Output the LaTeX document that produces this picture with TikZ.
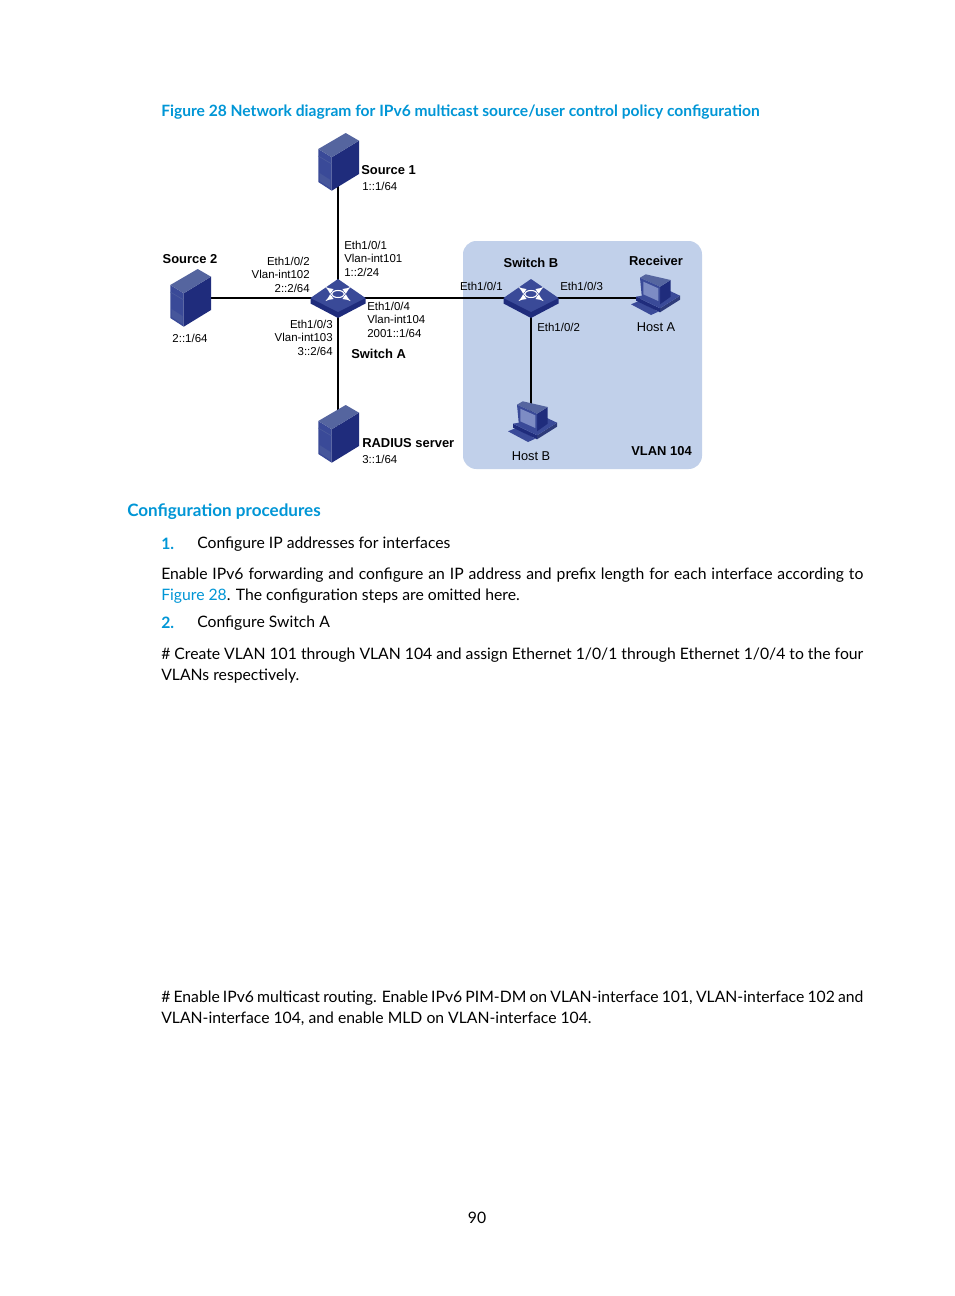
\documentclass[tikz,border=0pt]{standalone}
\usepackage{fontspec}
\setmainfont{Lato}
\setsansfont{Liberation Sans}
\definecolor{hpblue}{HTML}{0096D6}
\definecolor{vlanfill}{HTML}{C1D0EA}
\definecolor{iconfront}{HTML}{1F2C7C}
\definecolor{iconside}{HTML}{3A4A98}
\definecolor{icontop}{HTML}{55659F}
\definecolor{iconscreen}{HTML}{7D8CC4}
\tikzset{
  link/.style={line width=1.3pt, black},
  lab/.style={font=\sffamily\fontsize{8.6}{10.1}\selectfont, inner sep=0pt, align=left},
  hlab/.style={font=\sffamily\fontsize{9.6}{11}\selectfont, inner sep=0pt},
  blab/.style={font=\sffamily\bfseries\fontsize{9.7}{11}\selectfont, inner sep=0pt},
  para/.style={font=\fontsize{11.8}{15.8}\selectfont, inner sep=0pt, anchor=north west, text width=526.5pt, align=justify, text=black},
  servericon/.pic={
    \fill[iconside] (-19.7,-13) -- (-6.3,-4.7) -- (-6.3,28.7) -- (-19.7,20) -- cycle;
    \fill[iconfront] (-6.3,-4.7) -- (21,-21.3) -- (21,12) -- (-6.3,28.7) -- cycle;
    \fill[icontop] (-19.7,-13) -- (7.7,-29) -- (21,-21.3) -- (-6.3,-4.7) -- cycle;
    \draw[icontop!70!iconside, line width=0.4pt] (-19.7,-6) -- (-6.3,2);
    \fill[icontop!45!iconside] (-18.5,11) -- (-7.5,18) -- (-7.5,26) -- (-18.5,19) -- cycle;
  },
  hosticon/.pic={
    % keyboard
    \fill[iconside] (-26,6.3) -- (-18,3) -- (1.3,13.7) -- (-6,17) -- cycle;
    % base
    \fill[iconfront] (-21,-1.3) -- (3,10.3) -- (3,14.3) -- (-21,2.7) -- cycle;
    \fill[iconside!80!black] (3,10.3) -- (23,-2.3) -- (23,1.7) -- (3,14.3) -- cycle;
    \fill[iconside] (-21,-1.3) -- (3,10.3) -- (23,-2.3) -- (13,-7) -- cycle;
    % monitor
    \fill[iconfront] (3,-11.3) -- (13.7,-18) -- (13.7,-1.3) -- (3,6.3) -- cycle;
    \fill[icontop] (-17,-20.3) -- (-11.3,-23.7) -- (13.7,-18) -- (3,-11.3) -- cycle;
    \fill[iconside] (-17,-20.3) -- (3,-11.3) -- (3,6.3) -- (-15.3,-2.3) -- cycle;
    \fill[iconscreen] (-13.7,-16.3) -- (1.3,-9.7) -- (1.3,3) -- (-13.7,-3.7) -- cycle;
  },
  switchicon/.pic={
    \fill[iconfront] (-27.5,0) -- (-27.5,5.5) -- (0,20) -- (27.5,5.5) -- (27.5,0) -- cycle;
    \fill[iconside] (-27.5,0) -- (0,-19) -- (27.5,0) -- (0,14) -- cycle;
    \draw[white, line width=0.8pt] (0,-4) ellipse (6.5 and 3.5);
    \foreach \dx/\dy in {-1/-1, 1/-1, -1/1, 1/1}
      \draw[white, line width=1pt, -latex] (6*\dx,-4+2.5*\dy) -- (12.5*\dx,-4+7*\dy);
  },
}
\begin{document}
\begin{tikzpicture}[x=0.75pt, y=-0.75pt]
  \useasboundingbox (0,0) rectangle (954,1296);
  \fill[white] (0,0) rectangle (954,1296);
  \node[anchor=west, inner sep=0pt, text=hpblue, font=\bfseries\fontsize{11.7}{15}\selectfont] (figcap) at (161,112) {Figure 28 Network diagram for IPv6 multicast source/user control policy configuration};
  \fill[vlanfill, rounded corners=10pt] (463,241) rectangle (702,469);

  % devices
  \coordinate (swa) at (338,298);
  \coordinate (swb) at (531,298);
  \coordinate (srca) at (338,162);
  \coordinate (srcb) at (190,298);
  \coordinate (radius) at (338,434);
  \coordinate (hosta) at (657,298);
  \coordinate (hostb) at (534,425);
  \draw[link] (swa) -- (srca);
  \draw[link] (swa) -- (srcb);
  \draw[link] (swa) -- (radius);
  \draw[link] (swa) -- (swb);
  \draw[link] (swb) -- (hosta);
  \draw[link] (swb) -- (swb |- hostb);
  \pic at (srca) {servericon};
  \pic at (srcb) {servericon};
  \pic at (radius) {servericon};
  \pic at (swa) {switchicon};
  \pic at (swb) {switchicon};
  \pic at (hosta) {hosticon};
  \pic at (hostb) {hosticon};

  \node[blab, anchor=west] (srcaname) at (361,170) {Source 1};
  \node[lab, anchor=west] (srcaip) at (362,186) {1::1/64};
  \node[blab] (srcbname) at (190,259) {Source 2};
  \node[lab] (srcbip) at (190,338) {2::1/64};
  \node[blab, anchor=west] (radname) at (362,443) {RADIUS server};
  \node[lab, anchor=west] (radip) at (362,459) {3::1/64};
  \node[blab, anchor=west] (swaname) at (351,354) {Switch A};
  \node[blab] (swbname) at (531,263) {Switch B};
  \node[blab] (recv) at (656,261) {Receiver};
  \node[hlab] (haname) at (656,327) {Host A};
  \node[hlab] (hbname) at (531,456) {Host B};
  \node[blab, anchor=east] (vlanname) at (692,451) {VLAN 104};

  \node[lab, anchor=north west] (portone) at (344,240.5) {Eth1/0/1\\Vlan-int101\\1::2/24};
  \node[lab, anchor=north east, align=right] (porttwo) at (310,256.5) {Eth1/0/2\\Vlan-int102\\2::2/64};
  \node[lab, anchor=north east, align=right] (portthree) at (333,319.5) {Eth1/0/3\\Vlan-int103\\3::2/64};
  \node[lab, anchor=north west] (portfour) at (367,301.5) {Eth1/0/4\\Vlan-int104\\2001::1/64};
  \node[lab, anchor=east] (bone) at (503,286) {Eth1/0/1};
  \node[lab, anchor=west] (bthree) at (560,286) {Eth1/0/3};
  \node[lab, anchor=west] (btwo) at (537,327) {Eth1/0/2};

  % page text
  \node[anchor=west, inner sep=0pt, text=hpblue, font=\bfseries\fontsize{12.8}{16}\selectfont] (sechead) at (127,512) {Configuration procedures};
  \node[anchor=west, inner sep=0pt, text=hpblue, font=\bfseries\fontsize{11.8}{15}\selectfont] (numone) at (161,544) {1.};
  \node[anchor=west, inner sep=0pt, font=\fontsize{11.8}{15}\selectfont] (stepone) at (197,544) {Configure IP addresses for interfaces};
  \node[para] (bodya) at (161,568) {Enable IPv6 forwarding and configure an IP address and prefix length for each interface according to {\color{hpblue}Figure 28}. The configuration steps are omitted here.};
  \node[anchor=west, inner sep=0pt, text=hpblue, font=\bfseries\fontsize{11.8}{15}\selectfont] (numtwo) at (161,623) {2.};
  \node[anchor=west, inner sep=0pt, font=\fontsize{11.8}{15}\selectfont] (steptwo) at (197,623) {Configure Switch A};
  \node[para] (bodyb) at (161,647.5) {\# Create VLAN 101 through VLAN 104 and assign Ethernet 1/0/1 through Ethernet 1/0/4 to the four VLANs respectively.};
  \node[para] (bodyc) at (161,991) {\# Enable IPv6 multicast routing. Enable IPv6 PIM-DM on VLAN-interface 101, VLAN-interface 102 and\linebreak VLAN-interface 104, and enable MLD on VLAN-interface 104.};
  \node[inner sep=0pt, font=\fontsize{11.8}{15}\selectfont] (pagenum) at (477,1218) {90};
\end{tikzpicture}
\end{document}
